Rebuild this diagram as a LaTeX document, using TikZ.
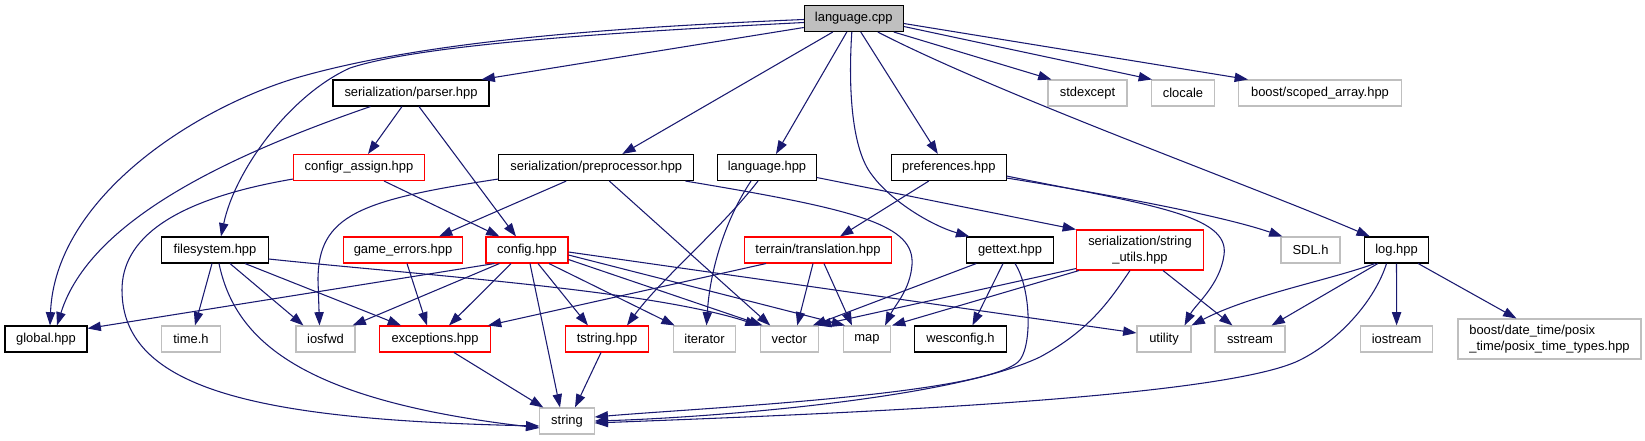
\documentclass[tikz,border=0pt]{standalone}
\usepackage{fontspec}
\setmainfont{Liberation Sans}
\usetikzlibrary{arrows.meta,calc}
\definecolor{edgeblue}{RGB}{25,25,112}
\definecolor{gryline}{RGB}{191,191,191}
\definecolor{redline}{RGB}{255,0,0}
\definecolor{gryfill}{RGB}{191,191,191}
\begin{document}
\begin{tikzpicture}[x=0.75pt,y=-0.75pt,
  font=\fontsize{9.7pt}{11.5pt}\selectfont,
  box/.style={rectangle, line width=0.8pt, inner xsep=2pt, inner ysep=1pt, minimum height=19.5pt, align=center, text=black},
  docnode/.style={box, draw=black},
  trunc/.style={box, draw=redline},
  undoc/.style={box, draw=gryline},
  dep/.style={draw=edgeblue, line width=0.8pt, -{Triangle[length=10pt,width=7pt]}}]
\path[use as bounding box] (0,0) rectangle (1645,440);

% row 0
\node[docnode, fill=gryfill, minimum width=74.25pt] (lcpp) at (853.8,18.5) {language.cpp};
% row 1
\node[docnode, minimum width=117pt] (parser) at (411,93) {serialization/parser.hpp};
\node[undoc, minimum width=59.25pt] (stdexcept) at (1087.5,93) {stdexcept};
\node[undoc, minimum width=47.25pt] (clocale) at (1183,93) {clocale};
\node[undoc, minimum width=122.25pt] (scoped) at (1320,93) {boost/scoped\_array.hpp};
% row 2
\node[trunc, minimum width=98.25pt] (configr) at (359,167.5) {configr\_assign.hpp};
\node[docnode, minimum width=146.25pt] (preproc) at (596.3,167.5) {serialization/preprocessor.hpp};
\node[docnode, minimum width=73.9pt] (langhpp) at (767,167.5) {language.hpp};
\node[docnode, minimum width=86pt] (prefs) at (948.8,167.5) {preferences.hpp};
% row 3
\node[docnode, minimum width=79.8pt] (fs) at (215,250) {filesystem.hpp};
\node[trunc, minimum width=89.5pt] (gameerr) at (403,250) {game\_errors.hpp};
\node[trunc, minimum width=61.5pt] (config) at (527,250) {config.hpp};
\node[trunc, minimum width=110.25pt] (terrain) at (818,250) {terrain/translation.hpp};
\node[docnode, minimum width=64.8pt] (gettext) at (1010,250) {gettext.hpp};
\node[trunc, minimum width=95.25pt, minimum height=30pt] (strutils) at (1140,250) {serialization/string\\\_utils.hpp};
\node[undoc, minimum width=44.25pt] (sdl) at (1310.5,250) {SDL.h};
\node[docnode, minimum width=48.2pt] (log) at (1396.5,250) {log.hpp};
% row 4
\node[docnode, minimum width=61.5pt] (global) at (46,339) {global.hpp};
\node[undoc, minimum width=44pt] (timeh) at (191,339) {time.h};
\node[undoc, minimum width=44.25pt] (iosfwd) at (325.5,339) {iosfwd};
\node[trunc, minimum width=83.1pt] (exceptions) at (435,339) {exceptions.hpp};
\node[trunc, minimum width=61.9pt] (tstring) at (607,339) {tstring.hpp};
\node[undoc, minimum width=46.9pt] (iterator) at (704.5,339) {iterator};
\node[undoc, minimum width=43.5pt] (vector) at (789.2,339) {vector};
\node[undoc, minimum width=35.25pt] (map) at (867,339) {map};
\node[docnode, minimum width=69pt] (wesconfig) at (960.4,339) {wesconfig.h};
\node[undoc, minimum width=40.5pt] (utility) at (1164,339) {utility};
\node[undoc, minimum width=52.5pt] (sstream) at (1250,339) {sstream};
\node[undoc, minimum width=54.4pt] (iostream) at (1396.6,339) {iostream};
\node[undoc, minimum width=137.25pt, minimum height=30pt, align=left] (posix) at (1549.5,339) {boost/date\_time/posix\\\_time/posix\_time\_types.hpp};
% row 5
\node[undoc, minimum width=40.7pt] (string) at (567,421) {string};

% language.cpp
\draw[dep] ($(lcpp.west)+(0,1)$) .. controls (600,28) and (420,42) .. (296,78) .. controls (190,110) and (55,200) .. ($(global.north)+(4,0)$);
\draw[dep] ($(lcpp.west)+(0,4)$) .. controls (600,33) and (420,45) .. (350,68) .. controls (290,95) and (235,170) .. ($(fs.north)+(6,0)$);
\draw[dep] ($(lcpp.west)+(0,9)$) -- ($(parser.north east)+(-8,0)$);
\draw[dep] ($(lcpp.south)+(-21,0)$) -- ($(preproc.north)+(26,0)$);
\draw[dep] ($(lcpp.south)+(-7,0)$) -- ($(langhpp.north)+(9,0)$);
\draw[dep] ($(lcpp.south)+(-2,0)$) .. controls (848,90) and (852,150) .. (872,175) .. controls (890,200) and (930,225) .. ($(gettext.north west)+(3,0)$);
\draw[dep] ($(lcpp.south)+(7,0)$) -- ($(prefs.north)+(-11,0)$);
\draw[dep] ($(lcpp.south)+(24,0)$) .. controls (1000,95) and (1250,185) .. ($(log.north west)+(6,0)$);
\draw[dep] ($(lcpp.south east)+(-10,0)$) -- ($(stdexcept.north west)+(4,0)$);
\draw[dep] ($(lcpp.east)+(0,8)$) -- ($(clocale.north west)+(1,0)$);
\draw[dep] ($(lcpp.east)+(0,5)$) -- ($(scoped.north west)+(10,0)$);

% parser
\draw[dep] ($(parser.south west)+(38,0)$) .. controls (230,155) and (90,220) .. ($(global.north)+(11,0)$);
\draw[dep] ($(parser.south)+(-9,0)$) -- ($(configr.north)+(9,0)$);
\draw[dep] ($(parser.south)+(8,0)$) -- ($(config.north)+(-11,0)$);

% configr_assign
\draw[dep] ($(configr.south west)+(0,-2)$) .. controls (170,200) and (122,240) .. (122,290) .. controls (122,390) and (260,420) .. ($(string.west)+(0,5)$);
\draw[dep] ($(configr.south)+(25,0)$) -- ($(config.north west)+(14,0)$);

% preprocessor
\draw[dep] ($(preproc.south west)+(68,0)$) -- ($(gameerr.north)+(36,0)$);
\draw[dep] ($(preproc.south west)+(0,-2)$) .. controls (360,200) and (318,215) .. (318,280) -- ($(iosfwd.north)+(-6,0)$);
\draw[dep] ($(preproc.south)+(13,0)$) -- ($(vector.north)+(-19,0)$);
\draw[dep] ($(preproc.south east)+(-9,0)$) .. controls (860,210) and (915,225) .. (912,265) .. controls (910,290) and (895,305) .. ($(map.north east)+(-6,0)$);

% language.hpp
\draw[dep] ($(langhpp.south)+(-9,0)$) .. controls (720,230) and (660,280) .. ($(tstring.north)+(20,0)$);
\draw[dep] ($(langhpp.south)+(-16,0)$) .. controls (725,220) and (710,270) .. ($(iterator.north)+(2,0)$);
\draw[dep] ($(langhpp.east)+(0,10)$) -- (strutils.north west);

% preferences
\draw[dep] ($(prefs.south)+(-20,0)$) -- ($(terrain.north)+(22,0)$);
\draw[dep] ($(prefs.south east)+(0,-3)$) .. controls (1100,193) and (1220,215) .. ($(sdl.north west)+(2,0)$);
\draw[dep] ($(prefs.south east)+(0,-5)$) .. controls (1150,205) and (1230,215) .. (1224,255) .. controls (1220,285) and (1195,305) .. ($(utility.north east)+(-7,0)$);

% filesystem
\draw[dep] ($(fs.south)+(-3,0)$) -- ($(timeh.north)+(4,0)$);
\draw[dep] ($(fs.south)+(4,0)$) .. controls (235,340) and (300,400) .. ($(string.west)+(0,7)$);
\draw[dep] ($(fs.south)+(15,0)$) -- ($(iosfwd.north west)+(8,0)$);
\draw[dep] ($(fs.south)+(30,0)$) -- ($(exceptions.north west)+(22,0)$);
\draw[dep] ($(fs.east)+(0,9)$) .. controls (420,275) and (650,290) .. ($(vector.north west)+(-1,0)$);

% game_errors
\draw[dep] ($(gameerr.south)+(4,0)$) -- ($(exceptions.north)+(-8,0)$);

% config
\draw[dep] ($(config.south west)+(9,0)$) -- ($(global.north east)+(0,3)$);
\draw[dep] ($(config.south west)+(14,0)$) -- ($(iosfwd.north east)+(-3,0)$);
\draw[dep] ($(config.south)+(-16,0)$) -- ($(exceptions.north)+(14,0)$);
\draw[dep] ($(config.south)+(3,0)$) -- ($(string.north)+(-7,0)$);
\draw[dep] ($(config.south)+(11,0)$) -- ($(tstring.north)+(-19,0)$);
\draw[dep] ($(config.south)+(22,0)$) -- ($(iterator.north west)+(2,0)$);
\draw[dep] ($(config.south east)+(0,-4)$) -- ($(vector.north west)+(3,0)$);
\draw[dep] ($(config.east)+(0,5)$) -- ($(map.north west)+(2,0)$);
\draw[dep] ($(config.east)+(0,2)$) -- ($(utility.west)+(0,-6)$);

% terrain/translation
\draw[dep] ($(terrain.south west)+(22,0)$) -- ($(exceptions.north east)+(-3,0)$);
\draw[dep] ($(terrain.south)+(-5,0)$) -- ($(vector.north)+(8,0)$);
\draw[dep] ($(terrain.south)+(6,0)$) -- ($(map.north west)+(9,0)$);

% gettext
\draw[dep] ($(gettext.south west)+(10,0)$) -- ($(vector.north east)+(-6,0)$);
\draw[dep] ($(gettext.south)+(-7,0)$) -- ($(wesconfig.north)+(12,0)$);
\draw[dep] ($(gettext.south)+(5,0)$) .. controls (1032,290) and (1032,350) .. (1018,362) .. controls (980,395) and (700,408) .. ($(string.east)+(0,-4)$);

% string_utils
\draw[dep] ($(strutils.south west)+(0,-2)$) -- ($(vector.north east)+(-1,0)$);
\draw[dep] ($(strutils.south west)+(3,0)$) -- ($(map.north east)+(1,0)$);
\draw[dep] ($(strutils.south)+(23,0)$) -- ($(sstream.north west)+(18,0)$);
\draw[dep] ($(strutils.south)+(-10,0)$) .. controls (1110,300) and (1090,330) .. (1040,357) .. controls (950,400) and (700,418) .. (string.east);

% log
\draw[dep] ($(log.south west)+(11,0)$) .. controls (1330,280) and (1250,295) .. (utility.north east);
\draw[dep] ($(log.south west)+(14,0)$) -- ($(sstream.north east)+(-14,0)$);
\draw[dep] ($(log.south)+(-10,0)$) .. controls (1375,300) and (1340,340) .. (1300,360) .. controls (1220,400) and (800,415) .. ($(string.east)+(0,2)$);
\draw[dep] (log.south) -- (iostream.north);
\draw[dep] ($(log.south east)+(-11,0)$) -- ($(posix.north west)+(59,0)$);

% tstring, exceptions
\draw[dep] ($(tstring.south)+(-6,0)$) -- ($(string.north)+(8,0)$);
\draw[dep] ($(exceptions.south)+(19,0)$) -- ($(string.north west)+(4,0)$);
\end{tikzpicture}
\end{document}
